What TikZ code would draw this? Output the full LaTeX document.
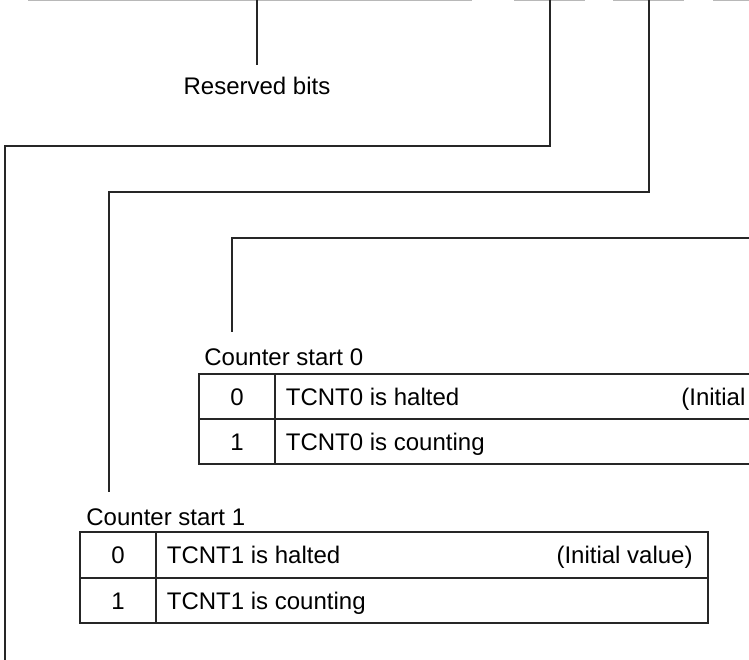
\documentclass[tikz,border=0pt]{standalone}
\usepackage{fontspec}
\setmainfont{Liberation Sans}
\usetikzlibrary{positioning}
\tikzset{
  regline/.style={line width=0.8pt, color=black!28},
  lead/.style={line width=0.55pt, color=black!85},
  tbl/.style={line width=0.7pt, draw=black!85},
  lbl/.style={inner sep=0pt, font=\fontsize{12}{14}\selectfont},
}

\begin{document}
\begin{tikzpicture}[x=0.5pt, y=-0.5pt]
  \useasboundingbox (0,0) rectangle (749,659);
  \clip (0,0) rectangle (749,659);

  % register bit cells (top edge)
  \foreach \a/\b in {28/472,514/585,613/684,713/760}
    \draw[regline] (\a,0.4) -- (\b,0.4);
  \coordinate (bitres) at (257,0);
  \coordinate (bit1)   at (550,0);
  \coordinate (bit0)   at (649,0);
  \coordinate (bitx)   at (760,238);
  \coordinate (down)   at (5,665);

  % labels
  \node[lbl, anchor=base] (resv) at (257,94) {Reserved bits};
  \node[lbl, anchor=base west] (cs0) at (204,365) {Counter start 0};
  \node[lbl, anchor=base west] (cs1) at (86,525) {Counter start 1};

  % leader lines
  \draw[lead] (bitres) -- ([yshift=5.75pt]resv.north);
  \draw[lead] (bit1) |- (5,146) -- (down);
  \draw[lead] (bit0) |- (109,192) -- ([xshift=11.5pt, yshift=7.9pt]cs1.north west);
  \draw[lead] (bitx) -| ([xshift=14pt, yshift=7.9pt]cs0.north west);

  % Table: counter start 0
  \draw[tbl] (199,374) rectangle (830,464);
  \draw[tbl] (199,419) -- (830,419);
  \draw[tbl] (275,374) -- (275,464);
  \node[lbl, anchor=base] (t0v0) at (237,405) {0};
  \node[lbl, anchor=base] (t0v1) at (237,450) {1};
  \node[lbl, anchor=base west] (t0d0) at (285.5,405) {TCNT0 is halted};
  \node[lbl, anchor=base west] (t0d1) at (285.5,450) {TCNT0 is counting};
  \node[lbl, anchor=base west] (t0ini) at (681,405) {(Initial};

  % Table: counter start 1
  \draw[tbl] (80,532) rectangle (708,623);
  \draw[tbl] (80,578) -- (708,578);
  \draw[tbl] (156,532) -- (156,623);
  \node[lbl, anchor=base] (t1v0) at (118,563.5) {0};
  \node[lbl, anchor=base] (t1v1) at (118,609) {1};
  \node[lbl, anchor=base west] (t1d0) at (166.5,563.5) {TCNT1 is halted};
  \node[lbl, anchor=base west] (t1d1) at (166.5,609) {TCNT1 is counting};
  \node[lbl, anchor=base east] (t1ini) at (693,563.5) {(Initial value)};
\end{tikzpicture}
\end{document}
